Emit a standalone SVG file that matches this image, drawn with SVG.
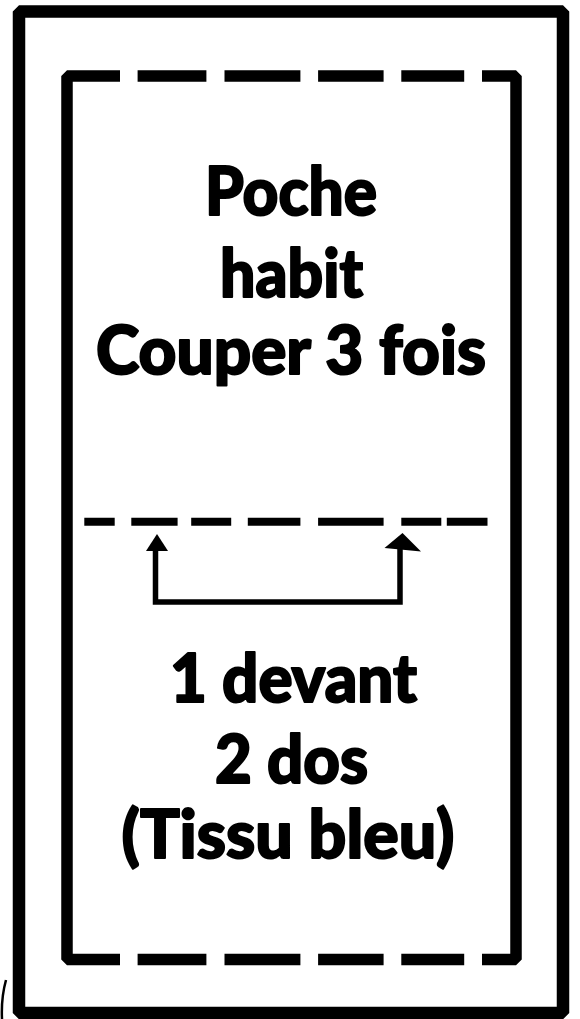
<svg xmlns="http://www.w3.org/2000/svg" width="580" height="1019" viewBox="0 0 580 1019">
<style>
.frame{fill:none;stroke:#000;stroke-width:12.5;stroke-linejoin:bevel}
.cut{fill:none;stroke:#000;stroke-width:11.5;stroke-linejoin:bevel;stroke-linecap:butt}
.fold{fill:none;stroke:#000;stroke-width:8;stroke-linecap:butt}
.conn{fill:none;stroke:#000;stroke-width:5.5;stroke-linejoin:miter}
.lbl{font-family:Lato,"Liberation Sans",sans-serif;font-weight:900;font-size:67px;fill:#000;stroke:#000;stroke-width:2;stroke-linejoin:round;text-anchor:middle}
</style>
<rect width="580" height="1019" fill="#fff"/>
<g id="outer-frame">
<rect class="frame" x="19" y="11.5" width="544" height="1001.5"/>
<path d="M6 980 Q1 998 2 1019" stroke="#000" stroke-width="2.5" fill="none"/>
</g>
<g id="cut-line">
<path class="cut" d="M120 76 H67 V959.5 H120"/>
<path class="cut" d="M482 76 H516 V959.5 H482"/>
<path class="cut" d="M137.6 76 H206.4 M224.5 76 H300.4 M318.1 76 H383.6 M401.3 76 H464.2"/>
<path class="cut" d="M137.6 959.5 H206.4 M224.5 959.5 H300.4 M318.1 959.5 H383.6 M401.3 959.5 H464.2"/>
</g>
<g id="fold-line">
<path class="fold" d="M84.3 521.7 H114.7 M131.3 521.7 H177.6 M191.2 521.7 H231.2 M247.8 521.7 H300.4 M318.1 521.7 H383.6 M401.3 521.7 H441.3 M446.8 521.7 H487.5"/>
</g>
<g id="label-top">
<text class="lbl" x="291" y="215" textLength="172" lengthAdjust="spacingAndGlyphs">Poche</text>
<text class="lbl" x="291.5" y="296.5" textLength="143" lengthAdjust="spacingAndGlyphs">habit</text>
<text class="lbl" x="291" y="374" textLength="390" lengthAdjust="spacingAndGlyphs">Couper 3 fois</text>
</g>
<g id="label-bottom">
<text class="lbl" x="293.5" y="702" textLength="247" lengthAdjust="spacingAndGlyphs">1 devant</text>
<text class="lbl" x="291.5" y="783" textLength="153" lengthAdjust="spacingAndGlyphs">2 dos</text>
<text class="lbl" x="288" y="858" textLength="333" lengthAdjust="spacingAndGlyphs">(Tissu bleu)</text>
</g>
<g id="connectors">
<polyline class="conn" points="155.5,549 155.5,602 400,602 400,547"/>
<polygon points="157,534 146,551 168,551" fill="#000"/>
<polygon points="402.5,533 384.5,548 421,551.5" fill="#000"/>
</g>
</svg>
